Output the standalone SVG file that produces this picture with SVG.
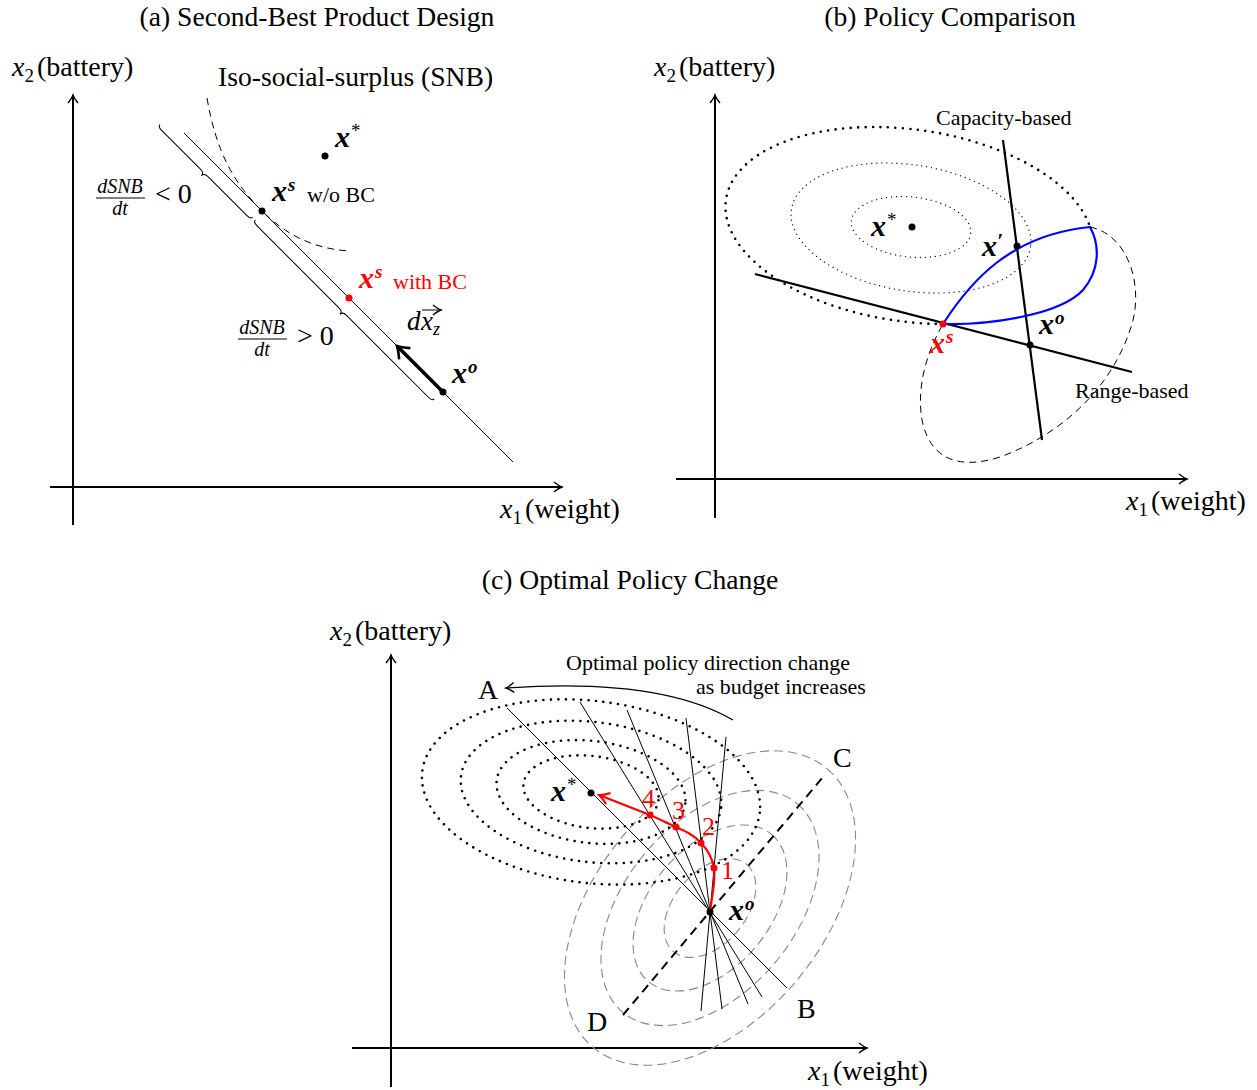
<svg xmlns="http://www.w3.org/2000/svg" width="1257" height="1090" viewBox="0 0 1257 1090">
<style>
text{font-family:"Liberation Serif","Times New Roman",serif;fill:#000}
.t{font-size:27.6px}
.lab{font-size:28px}
.sm{font-size:22px}
.bx{font-weight:bold;font-style:italic;font-size:30px}
.it{font-style:italic}
.red{fill:#f00}
.ax{stroke:#000;stroke-width:2;fill:none;marker-end:url(#ah)}
.thin{stroke:#000;stroke-width:1;fill:none}
.thick{stroke:#000;stroke-width:2.2;fill:none}
.dash{stroke:#000;stroke-width:1;fill:none;stroke-dasharray:7 5}
.gdash{stroke:#888;stroke-width:1.1;fill:none;stroke-dasharray:9 5}
.dotb{stroke:#000;stroke-width:2.6;fill:none;stroke-dasharray:0 7.5;stroke-linecap:round}
.dots{stroke:#000;stroke-width:1.3;fill:none;stroke-dasharray:0 5;stroke-linecap:round}
.brace{stroke:#000;stroke-width:1;fill:none}
</style>
<defs>
<marker id="ah" viewBox="-10 -6 12 12" refX="0" refY="0" markerWidth="12" markerHeight="12" orient="auto" markerUnits="userSpaceOnUse">
<path d="M-8,-5 Q-3,-1 0,0 Q-3,1 -8,5" fill="none" stroke="#000" stroke-width="1.4"/>
</marker>
<marker id="ahk" viewBox="-14 -9 16 18" refX="0" refY="0" markerWidth="16" markerHeight="18" orient="auto" markerUnits="userSpaceOnUse">
<path d="M-11,-8 Q-4,-2 0,0 Q-4,2 -11,8" fill="none" stroke="#000" stroke-width="2.6"/>
</marker>
<marker id="ahr" viewBox="-14 -9 16 18" refX="0" refY="0" markerWidth="16" markerHeight="18" orient="auto" markerUnits="userSpaceOnUse">
<path d="M-10,-6 Q-4,-1.5 0,0 Q-4,1.5 -10,6" fill="none" stroke="#f00" stroke-width="2.2"/>
</marker>
</defs>

<!-- ================= Panel (a) ================= -->
<g id="panel-a">
<text class="t" x="317" y="26" text-anchor="middle">(a) Second-Best Product Design</text>
<g id="a-axes">
<line class="ax" x1="73" y1="525" x2="73" y2="95"/>
<line class="ax" x1="50" y1="487" x2="562" y2="487"/>
<text class="lab" x="12" y="76"><tspan class="it">x</tspan><tspan font-size="19" dy="6">2</tspan><tspan dy="-6" dx="3">(battery)</tspan></text>
<text class="lab" x="500" y="518"><tspan class="it">x</tspan><tspan font-size="19" dy="6">1</tspan><tspan dy="-6" dx="3">(weight)</tspan></text>
</g>
<g id="a-iso">
<text class="t" x="218" y="86">Iso-social-surplus (SNB)</text>
<path class="dash" d="M207,98 C216,150 232,181 262,211 C284,233 312,249 350,251"/>
</g>
<g id="a-line">
<line class="thin" x1="184" y1="133" x2="513" y2="462"/>
</g>
<g id="a-braces">
<g transform="translate(160,124.5) rotate(45)">
<path class="brace" d="M0,0 Q0,3 5,3 L60.5,3 Q65.5,3 65.5,7 Q65.5,3 70.5,3 L126,3 Q131,3 131,0"/>
</g>
<g transform="translate(255.4,220) rotate(45)">
<path class="brace" d="M0,0 Q0,3 5,3 L121.5,3 Q126.5,3 126.5,7 Q126.5,3 131.5,3 L248,3 Q253,3 253,0"/>
</g>
</g>
<g id="a-frac1">
<text class="it" font-size="20" x="120" y="193" text-anchor="middle">dSNB</text>
<line x1="96" y1="198" x2="145" y2="198" stroke="#000" stroke-width="1"/>
<text class="it" font-size="20" x="120" y="215" text-anchor="middle">dt</text>
<text font-size="28" x="155" y="203">&lt; 0</text>
</g>
<g id="a-frac2">
<text class="it" font-size="20" x="262" y="334" text-anchor="middle">dSNB</text>
<line x1="238" y1="339" x2="287" y2="339" stroke="#000" stroke-width="1"/>
<text class="it" font-size="20" x="262" y="356" text-anchor="middle">dt</text>
<text font-size="28" x="297" y="345">&gt; 0</text>
</g>
<g id="a-xstar">
<circle cx="325" cy="156" r="3.5"/>
<text class="bx" x="335" y="147">x<tspan font-size="19" font-weight="normal" font-style="normal" dy="-10" dx="1">*</tspan></text>
</g>
<g id="a-xs-wo">
<circle cx="262" cy="211" r="3.5"/>
<text class="bx" x="272" y="201">x<tspan font-size="19" dy="-10" dx="1">s</tspan></text>
<text class="sm" x="307" y="202">w/o BC</text>
</g>
<g id="a-xs-with">
<circle cx="349" cy="298" r="3.5" fill="#f00"/>
<text class="bx red" x="359" y="288">x<tspan font-size="19" dy="-10" dx="1">s</tspan></text>
<text class="sm red" x="393" y="289">with BC</text>
</g>
<g id="a-xo">
<circle cx="443" cy="392" r="3.5"/>
<text class="bx" x="452" y="383">x<tspan font-size="19" dy="-10" dx="1">o</tspan></text>
<line x1="443" y1="392" x2="397" y2="346" stroke="#000" stroke-width="3.5" marker-end="url(#ahk)"/>
<text class="it" font-size="27" x="407" y="330">d</text>
<text class="it" font-size="27" x="421" y="330">x</text>
<text class="it" font-size="18" x="433" y="335">z</text>
<line x1="422" y1="310" x2="441" y2="310" stroke="#000" stroke-width="1" marker-end="url(#ah)"/>
</g>
</g>

<!-- ================= Panel (b) ================= -->
<g id="panel-b">
<text class="t" x="950" y="26" text-anchor="middle">(b) Policy Comparison</text>
<g id="b-axes">
<line class="ax" x1="715" y1="518" x2="715" y2="95"/>
<line class="ax" x1="676" y1="479" x2="1187" y2="479"/>
<text class="lab" x="654" y="76"><tspan class="it">x</tspan><tspan font-size="19" dy="6">2</tspan><tspan dy="-6" dx="3">(battery)</tspan></text>
<text class="lab" x="1126" y="510"><tspan class="it">x</tspan><tspan font-size="19" dy="6">1</tspan><tspan dy="-6" dx="3">(weight)</tspan></text>
</g>
<g id="b-contours">
<path class="dotb" d="M943,324 A185,96 8 1 1 1090,227"/>
<ellipse class="dots" cx="0" cy="0" rx="121" ry="63" transform="translate(911,228) rotate(9)"/>
<ellipse class="dots" cx="0" cy="0" rx="60" ry="30" transform="translate(911,227) rotate(6)"/>
</g>
<g id="b-range-set">
<path class="dash" d="M1090,227 C1130,235 1145,290 1130,330 C1110,390 1060,435 1000,457 C960,470 930,460 922,420 C916,385 928,350 943,324"/>
</g>
<g id="b-lines">
<line class="thick" x1="755" y1="274" x2="1132" y2="372"/>
<line class="thick" x1="1003" y1="140" x2="1042" y2="440"/>
<text class="sm" x="936" y="125">Capacity-based</text>
<text class="sm" x="1075" y="398">Range-based</text>
</g>
<g id="b-feasible">
<path d="M943,324 C970,282 1010,235 1090,227 C1100,245 1100,270 1083,290 C1060,315 990,325 943,324 Z" fill="none" stroke="#00f" stroke-width="2.2"/>
</g>
<g id="b-xstar">
<circle cx="912" cy="227" r="3.5"/>
<text class="bx" x="871" y="236">x<tspan font-size="19" font-weight="normal" font-style="normal" dy="-10" dx="1">*</tspan></text>
</g>
<g id="b-xprime">
<circle cx="1017" cy="246" r="3.5"/>
<text class="bx" x="982" y="256">x<tspan font-size="22" dy="-8">′</tspan></text>
</g>
<g id="b-xo">
<circle cx="1030" cy="345" r="3.5"/>
<text class="bx" x="1039" y="334">x<tspan font-size="19" dy="-10" dx="1">o</tspan></text>
</g>
<g id="b-xs">
<circle cx="943" cy="324" r="3.5" fill="#f00"/>
<text class="bx red" x="930" y="353">x<tspan font-size="19" dy="-10" dx="1">s</tspan></text>
</g>
</g>

<!-- ================= Panel (c) ================= -->
<g id="panel-c">
<text class="t" x="630" y="589" text-anchor="middle">(c) Optimal Policy Change</text>
<g id="c-axes">
<line class="ax" x1="391" y1="1087" x2="391" y2="655"/>
<line class="ax" x1="352" y1="1048" x2="867" y2="1048"/>
<text class="lab" x="330" y="640"><tspan class="it">x</tspan><tspan font-size="19" dy="6">2</tspan><tspan dy="-6" dx="3">(battery)</tspan></text>
<text class="lab" x="808" y="1080"><tspan class="it">x</tspan><tspan font-size="19" dy="6">1</tspan><tspan dy="-6" dx="3">(weight)</tspan></text>
</g>
<g id="c-gray-contours" transform="translate(710,908) rotate(-50)">
<ellipse class="gdash" cx="0" cy="0" rx="182" ry="113"/>
<ellipse class="gdash" cx="0" cy="0" rx="136" ry="85"/>
<ellipse class="gdash" cx="0" cy="0" rx="96" ry="60"/>
<ellipse class="gdash" cx="0" cy="0" rx="57" ry="36"/>
</g>
<g id="c-dot-contours" transform="translate(591,792) rotate(7)">
<ellipse class="dotb" cx="0" cy="0" rx="170" ry="91"/>
<ellipse class="dotb" cx="0" cy="0" rx="131" ry="70"/>
<ellipse class="dotb" cx="0" cy="0" rx="95" ry="51"/>
<ellipse class="dotb" cx="0" cy="0" rx="68" ry="36"/>
</g>
<g id="c-CD">
<line x1="623" y1="1015" x2="823" y2="777" stroke="#000" stroke-width="2" stroke-dasharray="9 6"/>
</g>
<g id="c-fan">
<line class="thin" x1="507" y1="708" x2="787" y2="988"/>
<line class="thin" x1="580" y1="702" x2="762" y2="997"/>
<line class="thin" x1="627" y1="710" x2="748" y2="1004"/>
<line class="thin" x1="686" y1="718" x2="722" y2="1009"/>
<line class="thin" x1="726" y1="737" x2="701" y2="1011"/>
</g>
<g id="c-curved-arrow">
<path d="M733,720 C690,695 620,680 506,688" fill="none" stroke="#000" stroke-width="1.1" marker-end="url(#ah)"/>
<text class="sm" x="566" y="670">Optimal policy direction change</text>
<text class="sm" x="696" y="694">as budget increases</text>
</g>
<g id="c-letters">
<text class="lab" x="478" y="699">A</text>
<text class="lab" x="797" y="1018">B</text>
<text class="lab" x="833" y="767">C</text>
<text class="lab" x="587" y="1031">D</text>
</g>
<g id="c-path">
<path d="M710,912 C712,895 716,880 714,868 C712,857 707,849 701,843 C694,835 685,831 676,827 C667,823 659,819 650,815 L599,795" fill="none" stroke="#f00" stroke-width="2.2" marker-end="url(#ahr)"/>
<circle cx="714" cy="868" r="3.5" fill="#f00"/>
<circle cx="701" cy="843" r="3.5" fill="#f00"/>
<circle cx="676" cy="827" r="3.5" fill="#f00"/>
<circle cx="650" cy="815" r="3.5" fill="#f00"/>
<text class="red" font-size="26" x="721" y="879">1</text>
<text class="red" font-size="26" x="702" y="835">2</text>
<text class="red" font-size="26" x="672" y="819">3</text>
<text class="red" font-size="26" x="642" y="807">4</text>
</g>
<g id="c-xstar">
<circle cx="591" cy="793" r="3.5"/>
<text class="bx" x="551" y="801">x<tspan font-size="19" font-weight="normal" font-style="normal" dy="-10" dx="1">*</tspan></text>
</g>
<g id="c-xo">
<circle cx="710" cy="912" r="3.5"/>
<text class="bx" x="729" y="920">x<tspan font-size="19" dy="-10" dx="1">o</tspan></text>
</g>
</g>
</svg>
